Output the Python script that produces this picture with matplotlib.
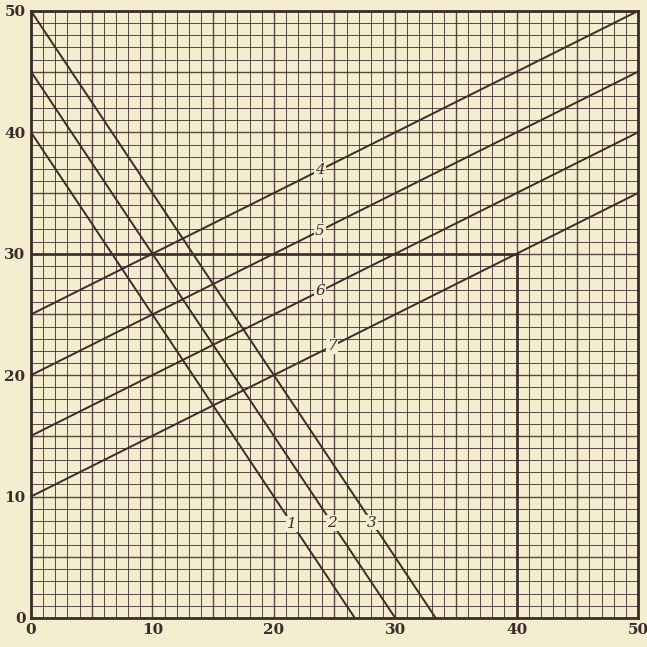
import matplotlib
matplotlib.use("Agg")
import matplotlib.pyplot as plt
import numpy as np

# line families: y = intercept + slope * x
STEEP_IDS = ["1", "2", "3"]
STEEP_INTERCEPTS = [40, 45, 50]
STEEP_SLOPE = -1.5
STEEP_LABEL_X = [21.5, 24.8, 28.1]

SHALLOW_IDS = ["4", "5", "6", "7"]
SHALLOW_INTERCEPTS = [25, 20, 15, 10]
SHALLOW_SLOPE = 0.5
SHALLOW_LABEL_X = [23.8, 23.8, 23.8, 24.8]

# the boxed corner at (40, 30)
CORNER_X = 40
CORNER_Y = 30

TICKS = [0, 10, 20, 30, 40, 50]

PAPER = "#f5edcf"
INK = "#3b2b2b"

fig = plt.figure(figsize=(6.47, 6.47), dpi=100, facecolor=PAPER)
ax = fig.add_axes([0.048, 0.045, 0.938, 0.938], facecolor=PAPER)

# graph-paper grid
for v in range(0, 51):
    lw = 1.0 if v % 5 == 0 else 0.7
    ax.axvline(v, color=INK, lw=lw, alpha=0.85, zorder=1)
    ax.axhline(v, color=INK, lw=lw, alpha=0.85, zorder=1)

bbox = dict(boxstyle="square,pad=0.05", fc=PAPER, ec="none")
xs = np.array([0, 50])

for lab, b, lx in zip(STEEP_IDS, STEEP_INTERCEPTS, STEEP_LABEL_X):
    ax.plot(xs, b + STEEP_SLOPE * xs, color=INK, lw=1.4, zorder=3)
    ax.text(lx, b + STEEP_SLOPE * lx, lab, ha="center", va="center",
            fontsize=11, fontstyle="italic", family="DejaVu Serif",
            color=INK, bbox=bbox, zorder=4)

for lab, b, lx in zip(SHALLOW_IDS, SHALLOW_INTERCEPTS, SHALLOW_LABEL_X):
    ax.plot(xs, b + SHALLOW_SLOPE * xs, color=INK, lw=1.4, zorder=3)
    ax.text(lx, b + SHALLOW_SLOPE * lx, lab, ha="center", va="center",
            fontsize=11, fontstyle="italic", family="DejaVu Serif",
            color=INK, bbox=bbox, zorder=4)

ax.plot([0, CORNER_X], [CORNER_Y, CORNER_Y], color=INK, lw=1.9, zorder=3)
ax.plot([CORNER_X, CORNER_X], [0, CORNER_Y], color=INK, lw=1.9, zorder=3)

ax.set_xlim(0, 50)
ax.set_ylim(0, 50)
ax.set_xticks(TICKS)
ax.set_yticks(TICKS)
ax.tick_params(length=0, pad=4, labelsize=11, labelcolor=INK)
for t in ax.get_xticklabels() + ax.get_yticklabels():
    t.set_family("DejaVu Serif")
    t.set_fontweight("bold")
for s in ax.spines.values():
    s.set_color(INK)
    s.set_linewidth(2.0)
    s.set_zorder(5)

fig.savefig("out.png", dpi=100, facecolor=PAPER)
